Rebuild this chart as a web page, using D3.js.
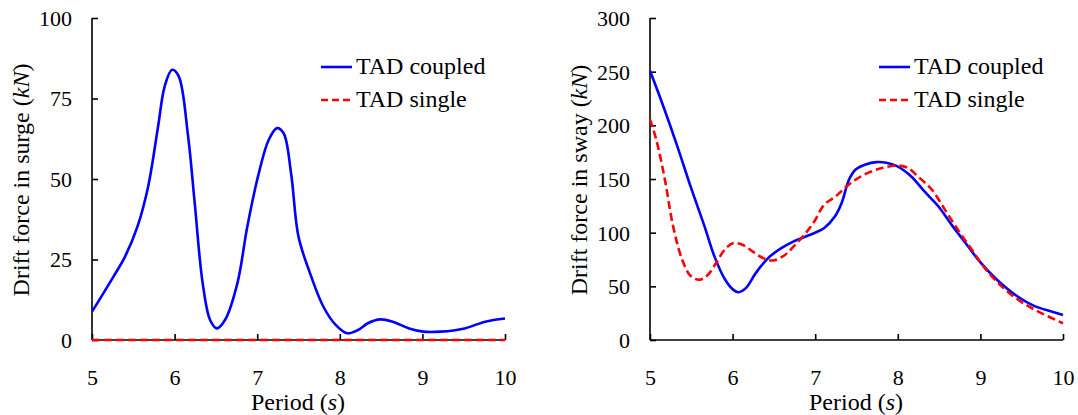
<!DOCTYPE html>
<html>
<head>
<meta charset="utf-8">
<script src="https://cdn.jsdelivr.net/npm/d3@7"></script>
<style>
  html, body { margin: 0; padding: 0; background: #fff; }
  svg { display: block; }
  svg text { font-family: "Liberation Serif", "Times New Roman", serif; fill: #000; }
</style>
</head>
<body>
<svg id="chart" width="1078" height="415"></svg>
<script>
// ---------- data ----------
const seriesNames = ["TAD coupled", "TAD single"];
const periodTicks = [5, 6, 7, 8, 9, 10];
const surgeTicks = [0, 25, 50, 75, 100];
const swayTicks = [0, 50, 100, 150, 200, 250, 300];

// Surge, TAD coupled
const surgeCoupledT = [5, 5.26, 5.40, 5.55, 5.68, 5.80, 5.88, 5.97, 6.05, 6.16, 6.24, 6.34, 6.43, 6.51, 6.61, 6.76, 6.88, 7.01, 7.14, 7.24, 7.32, 7.41, 7.50, 7.64, 7.80, 7.95, 8.09, 8.22, 8.34, 8.49, 8.64, 8.84, 9.01, 9.22, 9.51, 9.76, 10];
const surgeCoupledF = [8.8, 19.7, 25.9, 35.2, 47.7, 66.3, 78.8, 83.9, 81.9, 64.0, 43.5, 17.6, 6.2, 3.6, 6.2, 17.6, 35.2, 50.8, 62.2, 65.8, 64.2, 51.8, 32.1, 20.7, 10.4, 4.7, 2.1, 3.1, 5.2, 6.4, 5.7, 3.6, 2.6, 2.6, 3.6, 5.7, 6.7];
// Surge, TAD single
const surgeSingleT = [5, 5.5, 6, 6.5, 7, 7.5, 8, 8.5, 9, 9.5, 10];
const surgeSingleF = [0, 0, 0, 0, 0, 0, 0, 0, 0, 0, 0];

// Sway, TAD coupled
const swayCoupledT = [5, 5.16, 5.33, 5.49, 5.66, 5.78, 5.91, 6.01, 6.07, 6.16, 6.28, 6.43, 6.57, 6.74, 6.99, 7.11, 7.24, 7.32, 7.41, 7.49, 7.61, 7.74, 7.86, 7.99, 8.16, 8.32, 8.49, 8.65, 8.82, 8.99, 9.20, 9.45, 9.65, 9.86, 10];
const swayCoupledF = [250.8, 218, 180.7, 143.3, 105.9, 77.9, 56.1, 46.7, 44.5, 48.3, 62.3, 76.3, 84.7, 91.9, 99.7, 104.4, 115.3, 127.7, 149.5, 158.9, 163.6, 165.7, 165.1, 162, 152.6, 138.6, 124.6, 107.5, 90.3, 73.2, 56.1, 40.5, 31.8, 26.5, 23.4];
// Sway, TAD single
const swaySingleT = [5, 5.075, 5.18, 5.28, 5.39, 5.49, 5.60, 5.70, 5.80, 5.91, 6.01, 6.12, 6.24, 6.37, 6.49, 6.62, 6.74, 6.87, 6.99, 7.11, 7.24, 7.36, 7.49, 7.66, 7.82, 7.99, 8.12, 8.24, 8.41, 8.57, 8.74, 8.91, 9.07, 9.28, 9.49, 9.70, 10];
const swaySingleF = [205.6, 186.9, 149.5, 105.9, 74.8, 59.8, 56.1, 60.7, 71.7, 84.7, 90.3, 88.8, 82.6, 76.3, 74.1, 78.5, 87.2, 98.1, 110.6, 126.2, 133.3, 141.7, 149.5, 156.4, 160.4, 162.6, 160.4, 152.6, 140.2, 121.5, 101.2, 82.6, 65.4, 48.3, 35.8, 26.5, 15.6];

// ---------- drawing ----------
const FONT = '"Liberation Serif", "Times New Roman", serif';
const svg = d3.select("#chart");

function zip(t, f) { return t.map((d, i) => ({ t: d, f: f[i] })); }

function panel(opts) {
  const g = svg.append("g");
  const x = d3.scaleLinear().domain([5, 10]).range([opts.x0, opts.x0 + 413]);
  const y = d3.scaleLinear().domain([0, opts.ymax]).range([340, 18]);

  const xAxis = d3.axisBottom(x).tickValues(periodTicks).tickSize(-6).tickPadding(0).tickFormat(d3.format("d"));
  const yAxis = d3.axisLeft(y).tickValues(opts.ticks).tickSize(-6).tickPadding(0).tickFormat(d3.format("d"));

  const gx = g.append("g").attr("transform", "translate(0,340)").call(xAxis);
  const gy = g.append("g").attr("transform", `translate(${opts.x0},0)`).call(yAxis);
  [gx, gy].forEach(a => {
    a.attr("font-family", FONT);
    a.select(".domain").attr("stroke", "#000").attr("stroke-width", 1.6);
    a.selectAll(".tick line").attr("stroke", "#000").attr("stroke-width", 1.6);
    a.selectAll(".tick text").style("font-family", FONT).attr("font-size", 22).attr("fill", "#000");
  });
  gx.selectAll(".domain").attr("d", `M${opts.x0},0H${opts.x0 + 413}`);
  gy.selectAll(".domain").attr("d", `M0,340V18`);
  gx.selectAll(".tick text").attr("y", 45).attr("dy", 0);
  gy.selectAll(".tick text").attr("x", -20).attr("dy", "0.34em");

  const line = d3.line().x(d => x(d.t)).y(d => y(d.f)).curve(d3.curveCatmullRom.alpha(0.5));
  g.append("path").datum(zip(opts.coupledT, opts.coupledF))
    .attr("fill", "none").attr("stroke", "#0000ff").attr("stroke-width", 2.6)
    .attr("d", line);
  g.append("path").datum(zip(opts.singleT, opts.singleF))
    .attr("fill", "none").attr("stroke", "#ff0000").attr("stroke-width", 2.6)
    .attr("stroke-dasharray", "8,4")
    .attr("d", line);

  const xt = g.append("text").attr("x", opts.x0 + 206).attr("y", 410)
    .attr("text-anchor", "middle").attr("font-size", 24).style("font-family", FONT);
  xt.append("tspan").text("Period (");
  xt.append("tspan").attr("font-style", "italic").text("s");
  xt.append("tspan").text(")");

  const yt = g.append("text")
    .attr("transform", `translate(${opts.x0 - 63},180) rotate(-90)`)
    .attr("text-anchor", "middle").attr("font-size", 24).style("font-family", FONT);
  yt.append("tspan").text(opts.ylabel + " (");
  yt.append("tspan").attr("font-style", "italic").text("kN");
  yt.append("tspan").text(")");

  const lx = opts.x0 + 229;
  const leg = g.append("g");
  leg.append("line").attr("x1", lx).attr("x2", lx + 31).attr("y1", 67).attr("y2", 67)
    .attr("stroke", "#0000ff").attr("stroke-width", 2.6);
  leg.append("text").attr("x", lx + 35).attr("y", 74).attr("font-size", 24).style("font-family", FONT).text(seriesNames[0]);
  leg.append("line").attr("x1", lx).attr("x2", lx + 31).attr("y1", 100).attr("y2", 100)
    .attr("stroke", "#ff0000").attr("stroke-width", 2.6).attr("stroke-dasharray", "7,4");
  leg.append("text").attr("x", lx + 35).attr("y", 107).attr("font-size", 24).style("font-family", FONT).text(seriesNames[1]);
}

panel({
  x0: 92, ymax: 100, ticks: surgeTicks, ylabel: "Drift force in surge",
  coupledT: surgeCoupledT, coupledF: surgeCoupledF,
  singleT: surgeSingleT, singleF: surgeSingleF
});
panel({
  x0: 650, ymax: 300, ticks: swayTicks, ylabel: "Drift force in sway",
  coupledT: swayCoupledT, coupledF: swayCoupledF,
  singleT: swaySingleT, singleF: swaySingleF
});
</script>
</body>
</html>
